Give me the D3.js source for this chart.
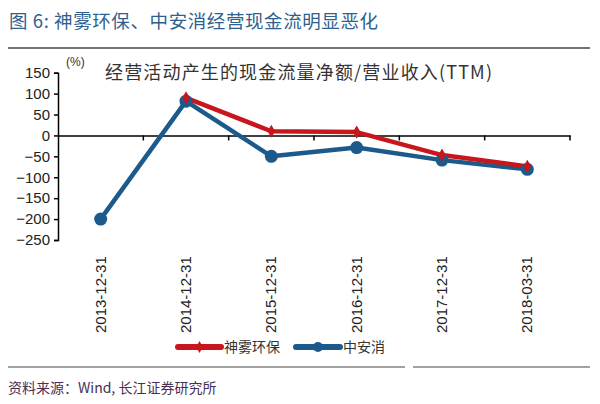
<!DOCTYPE html>
<html><head><meta charset="utf-8">
<script src="https://cdn.jsdelivr.net/npm/d3@7"></script>
<style>body{margin:0;background:#fff;}svg{display:block;}</style>
</head><body>
<script>
const categories = ["2013-12-31","2014-12-31","2015-12-31","2016-12-31","2017-12-31","2018-03-31"];
const shenwu = [null, 90, 10, 8, -47, -74];
const zhonganxiao = [-200, 82, -50, -29, -59, -81];
const yTicks = [150,100,50,0,-50,-100,-150,-200,-250];
const seriesNames = ["神雾环保","中安消"];
const colors = ["#c8161d","#1c5a8c"];

const W=600,H=404;
const svg=d3.select("body").append("svg").attr("width",W).attr("height",H);
const font="'Noto Sans CJK SC', 'Liberation Sans', sans-serif";

svg.append("text").attr("x",9).attr("y",28).attr("font-family",font).attr("font-size",18.5)
  .attr("fill","#2f5f8f").attr("textLength",369).attr("lengthAdjust","spacing")
  .text("图 6:  神雾环保、中安消经营现金流明显恶化");
svg.append("line").attr("x1",8).attr("x2",590).attr("y1",48).attr("y2",48).attr("stroke","#444").attr("stroke-width",1.3);

const x=d3.scaleBand().domain(categories).range([58,570]);
const y=d3.scaleLinear().domain([-250,150]).range([240,72.7]);

// y axis
const ya=svg.append("g").attr("transform","translate(58,0)")
  .call(d3.axisLeft(y).tickValues(yTicks).tickSize(4).tickFormat(d3.format("d")));
ya.select(".domain").attr("stroke","#000").attr("stroke-width",1.5);
ya.selectAll(".tick line").attr("stroke","#000").attr("stroke-width",1.5);
ya.selectAll(".tick text").attr("font-family","'Liberation Sans', Arial, sans-serif").attr("font-size",15).attr("fill","#222").attr("x",-8);

// x axis at zero
const xa=svg.append("g").attr("transform",`translate(0,${y(0)})`)
  .call(d3.axisBottom(x).tickSize(0).tickFormat(""));
xa.select(".domain").attr("stroke","#000").attr("stroke-width",1.5);
const bounds=categories.map(c=>x(c)+x.bandwidth());
svg.selectAll(".xt").data(bounds).enter().append("line")
  .attr("x1",d=>d).attr("x2",d=>d).attr("y1",y(0)).attr("y2",y(0)+5).attr("stroke","#000").attr("stroke-width",1.5);

// x labels rotated
svg.selectAll(".xl").data(categories).enter().append("text")
  .attr("transform",d=>`translate(${x(d)+x.bandwidth()/2+5},333) rotate(-90)`)
  .attr("font-family","'Liberation Sans', Arial, sans-serif").attr("font-size",15).attr("fill","#222")
  .text(d=>d);

svg.append("text").attr("x",66).attr("y",66).attr("font-family","'Liberation Sans', Arial, sans-serif").attr("font-size",12).attr("fill","#333").text("(%)");
svg.append("text").attr("x",105).attr("y",79).attr("font-family",font).attr("font-size",18)
  .attr("fill","#333").attr("textLength",387).attr("lengthAdjust","spacing")
  .text("经营活动产生的现金流量净额/营业收入(TTM)");

const line=d3.line().defined(d=>d.v!==null).x(d=>x(d.c)+x.bandwidth()/2).y(d=>y(d.v));
const data=[shenwu,zhonganxiao].map(arr=>categories.map((c,i)=>({c,v:arr[i]})));

[1,0].forEach(k=>{
  svg.append("path").datum(data[k]).attr("d",line).attr("fill","none").attr("stroke",colors[k])
    .attr("stroke-width",4.5).attr("stroke-linejoin","round");
});
svg.selectAll(".bd").data(data[1]).enter().append("circle")
  .attr("cx",d=>x(d.c)+x.bandwidth()/2).attr("cy",d=>y(d.v)).attr("r",6.5).attr("fill",colors[1]);
svg.selectAll(".rd").data(data[0].filter(d=>d.v!==null)).enter().append("path")
  .attr("transform",d=>`translate(${x(d.c)+x.bandwidth()/2},${y(d.v)})`)
  .attr("d",d3.symbol().type(d3.symbolDiamond).size(50)).attr("fill",colors[0]);

// legend
const lg=[{x:178,w:43,tx:224},{x:296,w:44,tx:343}];
lg.forEach((l,i)=>{
  svg.append("line").attr("x1",l.x).attr("x2",l.x+l.w).attr("y1",347).attr("y2",347)
    .attr("stroke",colors[i]).attr("stroke-width",6).attr("stroke-linecap","round");
  if(i===1) svg.append("circle").attr("cx",l.x+l.w/2).attr("cy",347).attr("r",5).attr("fill",colors[i]);
  else svg.append("path").attr("transform",`translate(${l.x+l.w/2},347)`).attr("d",d3.symbol().type(d3.symbolDiamond).size(40)).attr("fill",colors[i]);
  svg.append("text").attr("x",l.tx).attr("y",352).attr("font-family",font).attr("font-size",14).attr("fill","#333").text(seriesNames[i]);
});

svg.append("line").attr("x1",8).attr("x2",405).attr("y1",367).attr("y2",367).attr("stroke","#444").attr("stroke-width",1.2);
svg.append("line").attr("x1",413).attr("x2",590).attr("y1",367).attr("y2",367).attr("stroke","#444").attr("stroke-width",1.2);
svg.append("text").attr("x",8).attr("y",393).attr("font-family",font).attr("font-size",14).attr("fill","#4a2f55").text("资料来源：Wind, 长江证券研究所");
</script>
</body></html>
